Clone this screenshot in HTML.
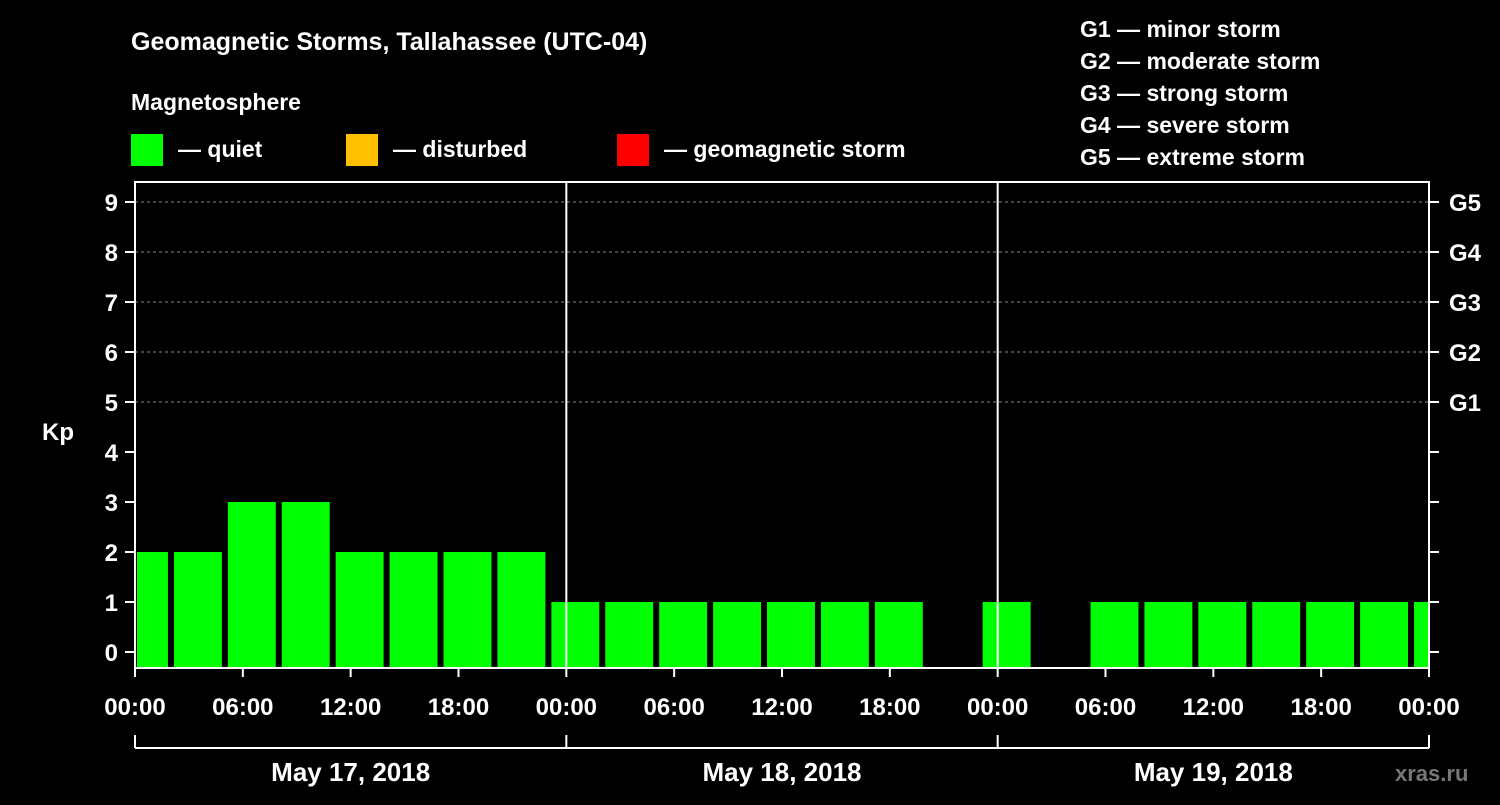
<!DOCTYPE html>
<html><head><meta charset="utf-8"><style>
body{margin:0;background:#000;width:1500px;height:800px;overflow:hidden}
svg text{font-family:"Liberation Sans",Arial,sans-serif;font-weight:bold;fill:#fff}
</style></head><body>
<svg id="c" width="1500" height="800" xmlns="http://www.w3.org/2000/svg">
<text x="131" y="50" font-size="25">Geomagnetic Storms, Tallahassee (UTC-04)</text>
<text x="131" y="110" font-size="23">Magnetosphere</text>
<rect x="131" y="134" width="32" height="32" fill="#00ff00"/>
<text x="178" y="157" font-size="23">— quiet</text>
<rect x="346" y="134" width="32" height="32" fill="#ffc000"/>
<text x="393" y="157" font-size="23">— disturbed</text>
<rect x="617" y="134" width="32" height="32" fill="#ff0000"/>
<text x="664" y="157" font-size="23">— geomagnetic storm</text>
<g font-size="23">
<text x="1080" y="37">G1 — minor storm</text>
<text x="1080" y="69">G2 — moderate storm</text>
<text x="1080" y="101">G3 — strong storm</text>
<text x="1080" y="133">G4 — severe storm</text>
<text x="1080" y="165">G5 — extreme storm</text>
</g>
<text x="42" y="440" font-size="24">Kp</text>
<text x="1395" y="781" font-size="22" style="fill:#777">xras.ru</text>
<g id="plot"></g>
</svg>
<script>
const kpValues=[2,2,3,3,2,2,2,2,1,1,1,1,1,1,1,null,1,null,1,1,1,1,1,1,1];
const yTicks=[0,1,2,3,4,5,6,7,8,9];
const gLabels=["G1","G2","G3","G4","G5"];
const gLevels=[5,6,7,8,9];
const xTickLabels=["00:00","06:00","12:00","18:00","00:00","06:00","12:00","18:00","00:00","06:00","12:00","18:00","00:00"];
const dayLabels=["May 17, 2018","May 18, 2018","May 19, 2018"];
const L=135,R=1429,T=182,B=668;
const x=h=>L+h*(R-L)/72;
const y=v=>652-v*50;
const NS="http://www.w3.org/2000/svg";
const g=document.getElementById('plot');
function mk(t,a){const e=document.createElementNS(NS,t);for(const k in a)e.setAttribute(k,a[k]);g.appendChild(e);return e;}
gLevels.forEach((v,i)=>{
 const l=mk('line',{x1:L,x2:R,y1:y(v),y2:y(v),stroke:'#888','stroke-dasharray':'3,3'});
 
 
 const t=mk('text',{x:1449,y:y(v)+9,'font-size':24});t.textContent=gLabels[i];
 
 
});
kpValues.forEach((v,i)=>{
 if(v===null)return;
 let x0=Math.max(L+2,x(-1+3*i)+3),x1=Math.min(R-1,x(2+3*i)-3);
 const r=mk('rect',{x:x0,y:y(v),width:x1-x0,height:B-y(v),fill:v>=5?'#ff0000':v>=4?'#ffc000':'#00ff00'});
 
 
});
const f=mk('rect',{x:L,y:T,width:R-L,height:B-T,fill:'none',stroke:'#fff','stroke-width':2});


[24,48].forEach(h=>{const l=mk('line',{x1:x(h),x2:x(h),y1:T,y2:B,stroke:'#fff','stroke-width':2});
 
 });
yTicks.forEach(v=>{
 mk('line',{x1:L-10,x2:L,y1:y(v),y2:y(v),stroke:'#fff','stroke-width':2});
 mk('line',{x1:R,x2:R+10,y1:y(v),y2:y(v),stroke:'#fff','stroke-width':2});
 const t=mk('text',{x:118,y:y(v)+9,'font-size':24,'text-anchor':'end'});t.textContent=v;
 
 
});
xTickLabels.forEach((s,i)=>{
 const xx=x(i*6);
 mk('line',{x1:xx,x2:xx,y1:B,y2:B+9,stroke:'#fff','stroke-width':2});
 const t=mk('text',{x:xx,y:715,'font-size':24,'text-anchor':'middle'});t.textContent=s;
 
 
});
mk('line',{x1:L,x2:R,y1:748,y2:748,stroke:'#fff','stroke-width':2});
[0,24,48,72].forEach(h=>mk('line',{x1:x(h),x2:x(h),y1:735,y2:748,stroke:'#fff','stroke-width':2}));
dayLabels.forEach((s,i)=>{
 const t=mk('text',{x:x(12+24*i),y:781,'font-size':26,'text-anchor':'middle'});t.textContent=s;
 
 
});
</script>
</body></html>
